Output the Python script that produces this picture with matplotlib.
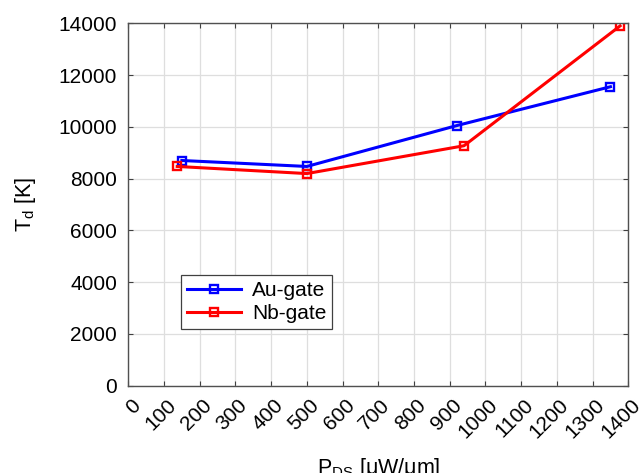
import matplotlib
matplotlib.use("Agg")
import matplotlib.pyplot as plt
import matplotlib.transforms as mtransforms

# values
au_x = [150, 500, 920, 1350]
au_td = [8700, 8470, 10050, 11550]
nb_x = [137, 500, 940, 1377]
nb_td = [8470, 8195, 9270, 13900]

x_ticks = list(range(0, 1401, 100))
y_ticks = list(range(0, 14001, 2000))

plt.rcParams['font.family'] = ['Liberation Sans', 'DejaVu Sans']
plt.rcParams['mathtext.default'] = 'regular'
fs = 15

fig = plt.figure(figsize=(6.44, 4.73), dpi=100)
ax = fig.add_axes([0.1992, 0.1846, 0.7764, 0.7661])

ax.plot(au_x, au_td, color='#0000ff', lw=2.2, marker='s', markersize=6,
        markerfacecolor='none', markeredgewidth=1.7, label='Au-gate')
ax.plot(nb_x, nb_td, color='#ff0000', lw=2.2, marker='s', markersize=6,
        markerfacecolor='none', markeredgewidth=1.7, label='Nb-gate')

ax.set_xlim(0, 1400)
ax.set_ylim(0, 14000)
ax.set_xticks(x_ticks)
ax.set_yticks(y_ticks)
ax.set_xticklabels([str(v) for v in x_ticks], rotation=45, ha='right',
                   va='center', rotation_mode='anchor', fontsize=fs)
ax.set_yticklabels([str(v) for v in y_ticks], fontsize=fs)

ax.grid(True, color='#dedede', lw=0.9)
ax.set_axisbelow(True)
ax.tick_params(direction='in', length=3.5, width=0.8, color='#404040',
               top=True, right=True)
ax.tick_params(axis='y', pad=8)
ax.tick_params(axis='x', pad=12)
for sp in ax.spines.values():
    sp.set_color('#505050')
    sp.set_linewidth(1.0)

# nudge the rotated x labels a bit to the right like the original
shift = mtransforms.ScaledTranslation(9 / 100, 0, fig.dpi_scale_trans)
for lab in ax.get_xticklabels():
    lab.set_transform(lab.get_transform() + shift)

ax.set_ylabel('T$_d$ [K]', fontsize=fs + 0.5)
ax.yaxis.set_label_coords(-0.18, 0.5)
ax.set_xlabel('P$_{DS}$ [\u03bcW/\u03bcm]', fontsize=fs + 0.5, va='top')
ax.xaxis.set_label_coords(0.5, -0.195)

leg = ax.legend(loc='lower left', bbox_to_anchor=(0.1054, 0.1556),
                borderaxespad=0, fontsize=fs, numpoints=1, handlelength=2.6,
                fancybox=False, framealpha=1, edgecolor='#404040',
                borderpad=0.3, labelspacing=0.2, handletextpad=0.5)
leg.get_frame().set_linewidth(0.9)

fig.savefig('out.png', dpi=100)
